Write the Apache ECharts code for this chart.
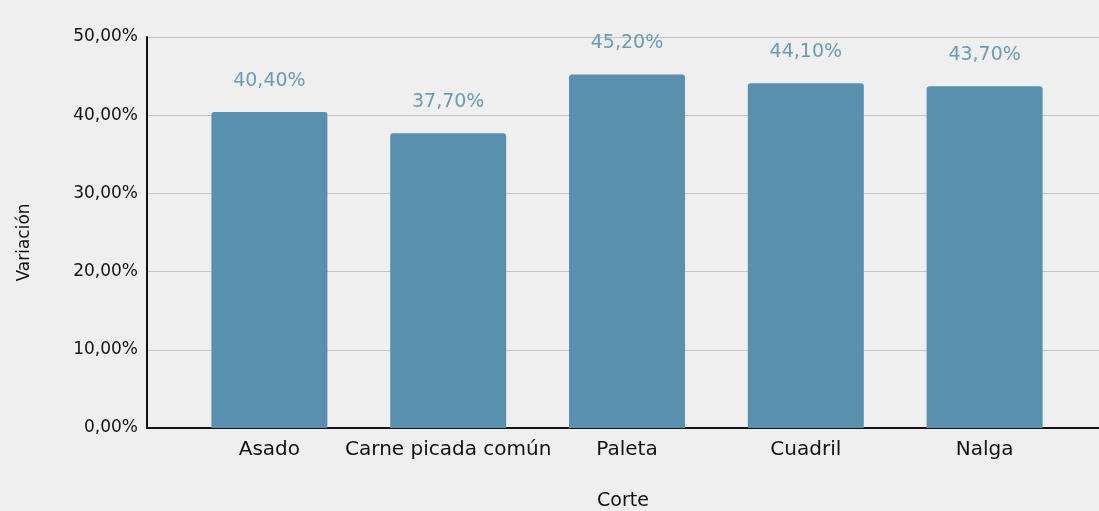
<!DOCTYPE html>
<html>
<head>
<meta charset="utf-8">
<script src="https://cdn.jsdelivr.net/npm/echarts@6/dist/echarts.min.js"></script>
<style>
  html, body { margin: 0; padding: 0; background: #efefef; }
  #chart { width: 1099px; height: 511px; }
</style>
</head>
<body>
<div id="chart"></div>
<script>
// datos
const cortes = ['Asado', 'Carne picada común', 'Paleta', 'Cuadril', 'Nalga'];
const variacion = [40.4, 37.7, 45.2, 44.1, 43.7];
const yMin = 0, yMax = 50, yStep = 10;

const fmt = v => v.toFixed(2).replace('.', ',') + '%';
const font = 'DejaVu Sans';

const chart = echarts.init(document.getElementById('chart'));
chart.setOption({
  backgroundColor: '#efefef',
  animation: false,
  grid: [
    { left: 147, right: 0, top: 37, bottom: 83, outerBoundsMode: 'none', containLabel: false },   // ejes y líneas
    { left: 180, right: 25, top: 37, bottom: 83, outerBoundsMode: 'none', containLabel: false }   // barras
  ],
  xAxis: [
    {
      gridIndex: 0, type: 'category', data: cortes,
      axisLine: { lineStyle: { color: '#111', width: 2 } },
      axisTick: { show: false }, axisLabel: { show: false },
      name: 'Corte', nameLocation: 'middle', nameGap: 64,
      nameTextStyle: { fontFamily: font, fontSize: 19, color: '#111' }
    },
    {
      gridIndex: 1, type: 'category', data: cortes,
      axisLine: { show: false }, axisTick: { show: false },
      axisLabel: { fontFamily: font, fontSize: 20, color: '#111', margin: 12, interval: 0 }
    }
  ],
  yAxis: [
    {
      gridIndex: 0, type: 'value', min: yMin, max: yMax, interval: yStep,
      axisLine: { show: true, lineStyle: { color: '#111', width: 2 } },
      axisTick: { show: false },
      splitLine: { lineStyle: { color: '#c4c4c4', width: 1 } },
      axisLabel: { formatter: fmt, fontFamily: font, fontSize: 17, color: '#111', margin: 9 },
      name: 'Variación', nameLocation: 'middle', nameGap: 114,
      nameTextStyle: { fontFamily: font, fontSize: 17, color: '#111', padding: [0, 20, 0, 0] }
    },
    {
      gridIndex: 1, type: 'value', min: yMin, max: yMax, interval: yStep,
      show: false
    }
  ],
  series: [{
    type: 'bar',
    xAxisIndex: 1, yAxisIndex: 1,
    data: variacion,
    barWidth: 116,
    itemStyle: { color: '#5990ae', borderRadius: [3, 3, 0, 0] },
    label: {
      show: true, position: 'top', distance: 22,
      formatter: p => fmt(p.value),
      fontFamily: font, fontSize: 19, color: '#6a9cb8'
    }
  }]
});
</script>
</body>
</html>
